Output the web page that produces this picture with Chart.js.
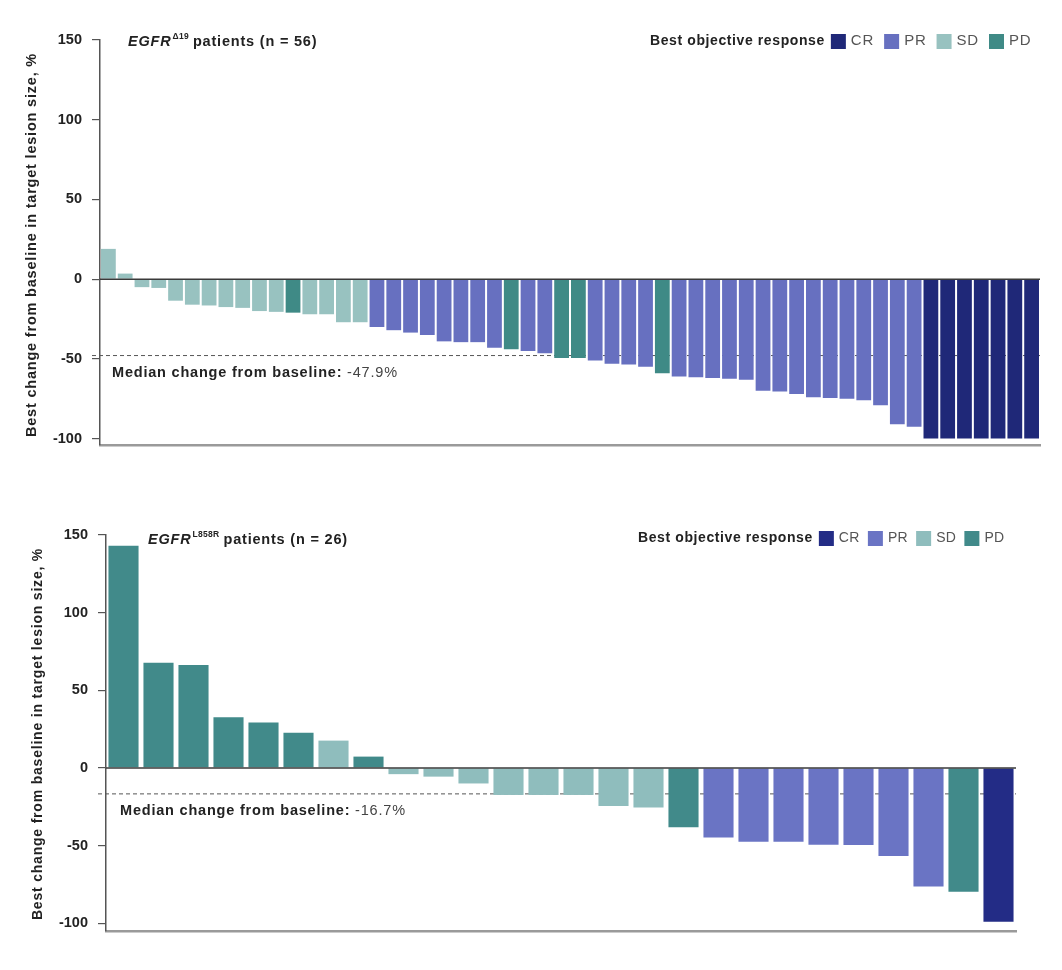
<!DOCTYPE html>
<html>
<head>
<meta charset="utf-8">
<script src="https://cdn.jsdelivr.net/npm/chart.js@4/dist/chart.umd.min.js"></script>
<style>
  body { margin: 0; background: #fff; }
  canvas { position: absolute; left: 0; }
  #chart1 { top: 0; }
  #chart2 { top: 485px; }
</style>
</head>
<body>
<canvas id="chart1" width="1062" height="485"></canvas>
<canvas id="chart2" width="1062" height="485"></canvas>
<script>
// --- data ---
var responseTypes = ['CR', 'PR', 'SD', 'PD'];
var yTickValues = [-100, -50, 0, 50, 100, 150];

// EGFR del19, n = 56
var del19Values = [19, 3.5, -5, -5.5, -13.5, -16, -16.5, -17.5, -18, -20, -20.5, -21, -22, -22, -27, -27,
  -30, -32, -33.5, -35, -39, -39.5, -39.5, -43, -44, -45, -46.5, -49.5, -49.5, -51, -53, -53.5, -55, -59,
  -61, -61.5, -62, -62.5, -63, -70, -70.5, -72, -74, -74.5, -75, -76, -79, -91, -92.5,
  -100, -100, -100, -100, -100, -100, -100];
var del19Response = ['SD', 'SD', 'SD', 'SD', 'SD', 'SD', 'SD', 'SD', 'SD', 'SD', 'SD', 'PD', 'SD', 'SD', 'SD', 'SD',
  'PR', 'PR', 'PR', 'PR', 'PR', 'PR', 'PR', 'PR', 'PD', 'PR', 'PR', 'PD', 'PD', 'PR', 'PR', 'PR', 'PR', 'PD',
  'PR', 'PR', 'PR', 'PR', 'PR', 'PR', 'PR', 'PR', 'PR', 'PR', 'PR', 'PR', 'PR', 'PR', 'PR',
  'CR', 'CR', 'CR', 'CR', 'CR', 'CR', 'CR'];
var del19Median = -47.9;

// EGFR L858R, n = 26
var l858rValues = [143, 67.8, 66.3, 32.6, 29.2, 22.7, 17.6, 7.3, -4, -5.6, -10, -17.4, -17.4, -17.4, -24.5, -25.5,
  -38.2, -44.8, -47.6, -47.6, -49.5, -49.7, -56.7, -76.4, -79.8, -99];
var l858rResponse = ['PD', 'PD', 'PD', 'PD', 'PD', 'PD', 'SD', 'PD', 'SD', 'SD', 'SD', 'SD', 'SD', 'SD', 'SD', 'SD',
  'PD', 'PR', 'PR', 'PR', 'PR', 'PR', 'PR', 'PR', 'PD', 'CR'];
var l858rMedian = -16.7;

// --- styles ---
var topColors = { CR: '#1f2878', PR: '#6770c0', SD: '#98c2c0', PD: '#3f8a86' };
var bottomColors = { CR: '#232c86', PR: '#6a74c4', SD: '#8fbdbd', PD: '#418a8a' };
var FONT = '"Liberation Sans", Arial, Helvetica, sans-serif';

function spaced(ctx, px) {
  if ('letterSpacing' in ctx) ctx.letterSpacing = px + 'px';
}

var decorPlugin = {
  id: 'decor',
  beforeDatasetsDraw: function(chart, args, opts) {
    var ctx = chart.ctx, area = chart.chartArea;
    var y = chart.scales.y.getPixelForValue(opts.median);
    ctx.save();
    ctx.strokeStyle = '#555';
    ctx.lineWidth = 1;
    ctx.setLineDash([4, 3]);
    ctx.beginPath();
    ctx.moveTo(area.left - 8, y);
    ctx.lineTo(area.right, y);
    ctx.stroke();
    ctx.restore();
  },
  afterDatasetsDraw: function(chart, args, opts) {
    var ctx = chart.ctx, area = chart.chartArea;
    var y0 = chart.scales.y.getPixelForValue(0);
    ctx.save();
    // zero line
    ctx.strokeStyle = '#3a3a3a';
    ctx.lineWidth = 1.5;
    ctx.beginPath();
    ctx.moveTo(area.left, y0);
    ctx.lineTo(area.right, y0);
    ctx.stroke();

    ctx.textBaseline = 'middle';
    ctx.fillStyle = '#222';
    spaced(ctx, 0.8);

    // median label
    ctx.font = 'bold 14.5px ' + FONT;
    var lead = 'Median change from baseline: ';
    ctx.fillText(lead, opts.medianX, opts.medianY);
    var w = ctx.measureText(lead).width;
    ctx.fillStyle = '#444';
    ctx.font = '14.5px ' + FONT;
    ctx.fillText(opts.median.toFixed(1) + '%', opts.medianX + w, opts.medianY);

    // panel title with superscript
    var x = opts.titleX;
    ctx.fillStyle = '#222';
    ctx.font = 'italic bold 14.5px ' + FONT;
    ctx.fillText('EGFR', x, opts.titleY);
    x += ctx.measureText('EGFR').width + 1;
    spaced(ctx, 0.3);
    ctx.font = 'bold 8.5px ' + FONT;
    ctx.fillText(opts.sup, x, opts.titleY - 5);
    x += ctx.measureText(opts.sup).width + 4;
    spaced(ctx, 0.8);
    ctx.font = 'bold 14.5px ' + FONT;
    ctx.fillText(opts.titleRest, x, opts.titleY);

    // legend
    x = opts.legendX;
    spaced(ctx, 0.6);
    ctx.font = 'bold 14px ' + FONT;
    ctx.fillStyle = '#222';
    ctx.fillText('Best objective response', x, opts.legendY);
    x += ctx.measureText('Best objective response').width + 6;
    spaced(ctx, opts.legendSpacing);
    ctx.font = opts.legendItemSize + 'px ' + FONT;
    responseTypes.forEach(function(r) {
      ctx.fillStyle = opts.colors[r];
      ctx.fillRect(x, opts.legendY - 7, 15, 15);
      x += 20;
      ctx.fillStyle = '#555';
      ctx.fillText(r, x, opts.legendY);
      x += ctx.measureText(r).width + opts.legendGap;
    });

    // y axis title
    spaced(ctx, 0.8);
    ctx.translate(opts.yTitleX, opts.yTitleY);
    ctx.rotate(-Math.PI / 2);
    ctx.textAlign = 'center';
    ctx.fillStyle = '#222';
    ctx.font = 'bold ' + opts.yTitleSize + 'px ' + FONT;
    ctx.fillText('Best change from baseline in target lesion size, %', 0, 0);
    ctx.restore();
  }
};

function makeWaterfall(canvasId, values, responses, colors, cfg) {
  return new Chart(document.getElementById(canvasId), {
    type: 'bar',
    data: {
      labels: values.map(function(v, i) { return 'P' + (i + 1); }),
      datasets: [{
        data: values,
        backgroundColor: responses.map(function(r) { return colors[r]; }),
        borderWidth: 0,
        barPercentage: cfg.barPct,
        categoryPercentage: 1.0
      }]
    },
    options: {
      responsive: false,
      animation: false,
      devicePixelRatio: 1,
      layout: { padding: cfg.padding },
      plugins: {
        legend: { display: false },
        tooltip: { enabled: false },
        decor: cfg.decor
      },
      scales: {
        x: {
          grid: { display: false },
          ticks: { display: false },
          border: { display: true, color: '#9a9a9a', width: 2.5 },
          afterFit: function(s) { s.height = 0; }
        },
        y: {
          min: cfg.yMin,
          max: 150,
          afterBuildTicks: function(s) {
            s.ticks = yTickValues.map(function(v) { return { value: v }; });
          },
          ticks: {
            padding: 10,
            color: '#222',
            font: { family: FONT, size: 14.5, weight: 'bold' }
          },
          grid: { drawOnChartArea: false, drawTicks: true, tickLength: 8, color: '#555', lineWidth: 1.2 },
          border: { display: true, color: '#555', width: 1.5 },
          afterFit: function(s) { s.width = cfg.yWidth; }
        }
      }
    },
    plugins: [decorPlugin]
  });
}

makeWaterfall('chart1', del19Values, del19Response, topColors, {
  barPct: 0.88, yMin: -104, yWidth: 100,
  padding: { left: 0, right: 22, top: 40, bottom: 40 },
  decor: {
    median: del19Median, medianX: 112, medianY: 373,
    sup: '\u039419', titleRest: 'patients (n = 56)', titleX: 128, titleY: 42,
    legendX: 650, legendY: 41, colors: topColors,
    legendItemSize: 15, legendSpacing: 0.8, legendGap: 10,
    yTitleX: 32, yTitleY: 245, yTitleSize: 14.5
  }
});

makeWaterfall('chart2', l858rValues, l858rResponse, bottomColors, {
  barPct: 0.86, yMin: -105, yWidth: 106,
  padding: { left: 0, right: 46, top: 50, bottom: 39 },
  decor: {
    median: l858rMedian, medianX: 120, medianY: 326,
    sup: 'L858R', titleRest: 'patients (n = 26)', titleX: 148, titleY: 55,
    legendX: 638, legendY: 53, colors: bottomColors,
    legendItemSize: 14, legendSpacing: 0.4, legendGap: 8,
    yTitleX: 38, yTitleY: 249, yTitleSize: 14
  }
});
</script>
</body>
</html>
